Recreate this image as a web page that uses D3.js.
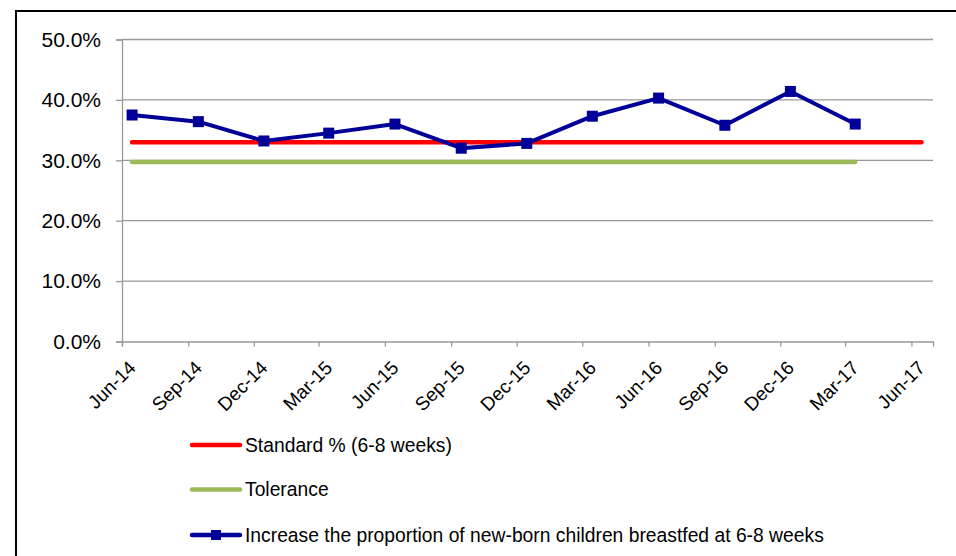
<!DOCTYPE html>
<html>
<head>
<meta charset="utf-8">
<script src="https://cdn.jsdelivr.net/npm/d3@7"></script>
<style>
  body { margin: 0; background: #fff; }
  text { font-family: "Liberation Sans", Arial, sans-serif; fill: #000; }
</style>
</head>
<body>
<svg id="chart" width="956" height="556"></svg>
<script>
// quarterly points (mid month)
var dates = ["2014-06-15","2014-09-15","2014-12-15","2015-03-15","2015-06-15","2015-09-15",
             "2015-12-15","2016-03-15","2016-06-15","2016-09-15","2016-12-15","2017-03-15"];
var standardDates = dates.concat(["2017-06-15"]);
var breastfed = [37.5, 36.4, 33.2, 34.5, 36.0, 32.0, 32.8, 37.3, 40.3, 35.8, 41.4, 36.0];
var standard = [33, 33, 33, 33, 33, 33, 33, 33, 33, 33, 33, 33, 33];
var tolerance = [29.7, 29.7, 29.7, 29.7, 29.7, 29.7, 29.7, 29.7, 29.7, 29.7, 29.7, 29.7];
var yTicks = [0, 10, 20, 30, 40, 50];
var seriesNames = ["Standard % (6-8 weeks)", "Tolerance",
                   "Increase the proportion of new-born children breastfed at 6-8 weeks"];

var parse = d3.timeParse("%Y-%m-%d");
var svg = d3.select("#chart");

// outer chart border (runs off the picture right and bottom)
svg.append("rect").attr("x", 16).attr("y", 11).attr("width", 980).attr("height", 600)
  .attr("fill", "none").attr("stroke", "#000").attr("stroke-width", 2);

var x = d3.scaleTime()
  .domain([parse("2014-06-01"), parse("2017-07-01")])
  .range([122, 933]);
var y = d3.scaleLinear().domain([0, 50]).range([341.5, 39.5]);

// gridlines
svg.append("g").selectAll("line").data(yTicks.slice(1)).enter().append("line")
  .attr("x1", 122).attr("x2", 933)
  .attr("y1", function(d) { return y(d); }).attr("y2", function(d) { return y(d); })
  .attr("stroke", "#999").attr("stroke-width", 1.3);

// y axis
var yAxis = svg.append("g").attr("transform", "translate(122,0)")
  .call(d3.axisLeft(y).tickValues(yTicks).tickSize(6).tickPadding(15)
        .tickFormat(function(d) { return d.toFixed(1) + "%"; }));
yAxis.select(".domain").attr("stroke", "#999").attr("stroke-width", 1.3);
yAxis.selectAll(".tick line").attr("stroke", "#999").attr("stroke-width", 1.3);
yAxis.selectAll("text").attr("font-size", 21).attr("font-family", "Liberation Sans, Arial, sans-serif")
  .attr("fill", "#000");

// x axis
var xTicks = d3.timeMonth.range(parse("2014-06-01"), parse("2017-06-02"), 3);
var xAxis = svg.append("g").attr("transform", "translate(0," + y(0) + ")")
  .call(d3.axisBottom(x).tickValues(xTicks).tickSize(5)
        .tickFormat(d3.timeFormat("%b-%y")));
xAxis.select(".domain").attr("stroke", "#999").attr("stroke-width", 1.3);
xAxis.selectAll(".tick line").attr("stroke", "#999").attr("stroke-width", 1.3);
xAxis.selectAll("text")
  .attr("font-size", 19).attr("font-family", "Liberation Sans, Arial, sans-serif").attr("fill", "#000")
  .attr("text-anchor", "end")
  .attr("transform", "translate(5,18) rotate(-45)")
  .attr("y", 0).attr("dy", "0.7em");

var line = d3.line()
  .x(function(d) { return x(parse(d[0])); })
  .y(function(d) { return y(d[1]); });

svg.append("path").datum(d3.zip(standardDates, standard))
  .attr("d", line).attr("fill", "none").attr("stroke", "#ff0000")
  .attr("stroke-width", 4.5).attr("stroke-linecap", "round");
svg.append("path").datum(d3.zip(dates, tolerance))
  .attr("d", line).attr("fill", "none").attr("stroke", "#9bbb59")
  .attr("stroke-width", 4.5).attr("stroke-linecap", "round");
svg.append("path").datum(d3.zip(dates, breastfed))
  .attr("d", line).attr("fill", "none").attr("stroke", "#000099")
  .attr("stroke-width", 4).attr("stroke-linejoin", "round");
svg.append("g").selectAll("rect").data(d3.zip(dates, breastfed)).enter().append("rect")
  .attr("x", function(d) { return x(parse(d[0])) - 5.5; })
  .attr("y", function(d) { return y(d[1]) - 5.5; })
  .attr("width", 11).attr("height", 11).attr("fill", "#000099");

// legend
var legendColors = ["#ff0000", "#9bbb59", "#000099"];
var legendY = [445, 489.5, 535];
var legend = svg.append("g");
seriesNames.forEach(function(name, i) {
  legend.append("line").attr("x1", 192).attr("x2", 240)
    .attr("y1", legendY[i]).attr("y2", legendY[i])
    .attr("stroke", legendColors[i]).attr("stroke-width", 4.5).attr("stroke-linecap", "round");
  if (i == 2) {
    legend.append("rect").attr("x", 211).attr("y", legendY[i] - 5)
      .attr("width", 10).attr("height", 10).attr("fill", legendColors[i]);
  }
  legend.append("text").attr("x", 245).attr("y", legendY[i]).attr("dy", "0.36em")
    .attr("font-size", 19.3).text(name);
});
</script>
</body>
</html>
